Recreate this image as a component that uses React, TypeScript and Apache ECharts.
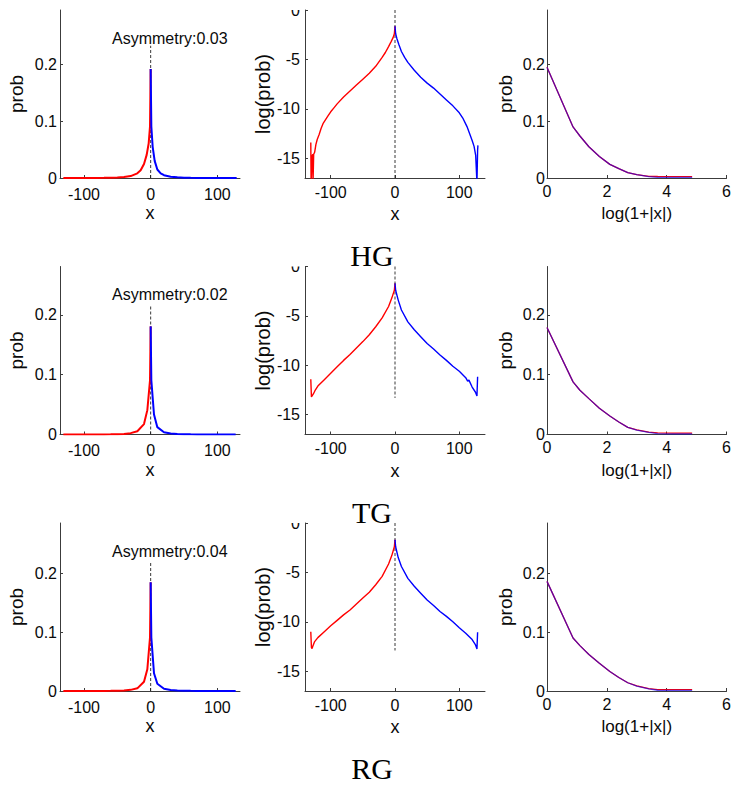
import React, { useEffect, useRef } from "react";
import * as echarts from "echarts";

// ---------- data ----------
const rowNames = ["HG", "TG", "RG"];
const asymmetryLabels = ["Asymmetry:0.03", "Asymmetry:0.02", "Asymmetry:0.04"];
const probAxisMax = [0.296, 0.281, 0.285];
const probTicks = [0, 0.1, 0.2];
const logTicks = [-15, -10, -5, 0];
const xTicks = [-100, 0, 100];
const rightXTicks = [0, 2, 4, 6];
const probDashTop = [0.233, 0.217, 0.22];
const logDashBottom = [-17, -13.3, -12.9];

// HG: log(prob) for x <= 0 (red) and x >= 0 (blue)
const hgNegX = [-131, -130.5, -129, -128, -127.5, -126.5, -125, -123, -121, -118, -115, -112, -108, -104, -100, -95, -90, -80, -70, -60, -50, -40, -30, -20, -15, -10, -6, -3, -1, 0];
const hgNegLog = [-13.4, -17.5, -14.8, -14.6, -17.5, -14.6, -14.4, -13.6, -13.1, -12.6, -12.0, -11.5, -11.1, -10.7, -10.3, -9.9, -9.5, -8.8, -8.2, -7.6, -7.0, -6.4, -5.7, -4.8, -4.3, -3.7, -3.2, -2.8, -2.4, -1.65];
const hgPosX = [0, 1, 3, 6, 10, 15, 20, 30, 40, 50, 60, 70, 80, 90, 100, 106, 112, 116, 120, 123, 125.5, 127.5, 128.5, 129];
const hgPosLog = [-1.65, -2.4, -2.9, -3.5, -4.2, -4.8, -5.3, -6.1, -6.8, -7.4, -7.9, -8.5, -9.1, -9.7, -10.4, -11.0, -11.8, -12.5, -13.2, -13.8, -14.7, -17.5, -14.2, -13.7];

// TG
const tgNegX = [-131, -130, -127, -124, -120, -110, -100, -90, -80, -70, -60, -50, -40, -30, -20, -10, -5, -1, 0];
const tgNegLog = [-11.4, -13.2, -12.9, -12.5, -12.1, -11.45, -10.8, -10.15, -9.5, -8.9, -8.25, -7.6, -6.9, -6.1, -5.2, -4.05, -3.2, -2.4, -1.71];
const tgPosX = [0, 1, 5, 10, 20, 30, 40, 50, 60, 70, 80, 90, 100, 110, 113, 115, 120, 125, 127.5, 128.5];
const tgPosLog = [-1.71, -2.4, -3.4, -4.4, -5.6, -6.4, -7.1, -7.8, -8.35, -8.95, -9.5, -10.1, -10.6, -11.25, -11.6, -11.5, -12.2, -12.7, -13.1, -11.15];

// RG
const rgNegX = [-131, -130, -129, -128, -125, -120, -110, -100, -90, -80, -70, -60, -50, -40, -30, -20, -10, -5, -1, 0];
const rgNegLog = [-11.0, -12.6, -12.7, -12.5, -12.0, -11.6, -11.0, -10.4, -9.85, -9.3, -8.8, -8.2, -7.6, -7.0, -6.25, -5.4, -4.15, -3.3, -2.4, -1.69];
const rgPosX = [0, 1, 5, 10, 20, 30, 40, 50, 60, 70, 80, 90, 100, 110, 120, 125, 127.5, 128.5];
const rgPosLog = [-1.69, -2.4, -3.5, -4.4, -5.6, -6.4, -7.1, -7.8, -8.35, -8.95, -9.45, -10.0, -10.6, -11.15, -11.8, -12.3, -12.75, -11.05];

// right column: prob against log(1+|x|)
const rightX = [0, 0.87, 1.1, 1.4, 1.75, 2.1, 2.4, 2.7, 3.0, 3.4, 3.7, 4.2, 4.85];
const hgRightRed = [0.195, 0.09, 0.074, 0.055, 0.038, 0.024, 0.0165, 0.0095, 0.006, 0.003, 0.0026, 0.0024, 0.0024];
const hgRightBlue = [0.195, 0.09, 0.074, 0.055, 0.038, 0.024, 0.0165, 0.0095, 0.0058, 0.0025, 0.0012, 0.001, 0.001];
const tgRightRed = [0.179, 0.088, 0.074, 0.06, 0.044, 0.031, 0.021, 0.012, 0.0078, 0.004, 0.0028, 0.0024, 0.0024];
const tgRightBlue = [0.179, 0.088, 0.074, 0.06, 0.044, 0.031, 0.021, 0.012, 0.0075, 0.0035, 0.0015, 0.001, 0.001];
const rgRightRed = [0.186, 0.09, 0.077, 0.062, 0.047, 0.033, 0.023, 0.014, 0.0086, 0.004, 0.0025, 0.0022, 0.0022];
const rgRightBlue = [0.186, 0.09, 0.077, 0.062, 0.047, 0.033, 0.023, 0.014, 0.0083, 0.0035, 0.0013, 0.001, 0.001];

const rowsData = [
  { negX: hgNegX, negLog: hgNegLog, posX: hgPosX, posLog: hgPosLog, rRed: hgRightRed, rBlue: hgRightBlue },
  { negX: tgNegX, negLog: tgNegLog, posX: tgPosX, posLog: tgPosLog, rRed: tgRightRed, rBlue: tgRightBlue },
  { negX: rgNegX, negLog: rgNegLog, posX: rgPosX, posLog: rgPosLog, rRed: rgRightRed, rBlue: rgRightBlue },
];

// ---------- layout / style ----------
const rowTops = [10, 266.5, 523];
const gridH = 168;
const cols = [
  { left: 60, width: 180 },
  { left: 305, width: 180 },
  { left: 547, width: 181 },
];
const SANS = "'Liberation Sans', Arial, sans-serif";
const SERIF = "'Liberation Serif', 'Times New Roman', serif";
const AXIS_COLOR = "#3c3c3c";
const TEXT_COLOR = "#0a0a0a";
const RED = "#ff0000";
const BLUE = "#0000ff";

function fmt(v: number) {
  return String(Math.round(v * 1000) / 1000);
}

function baseAxis(gridIndex: number) {
  return {
    gridIndex,
    type: "value",
    axisLine: { show: true, onZero: false, lineStyle: { color: AXIS_COLOR, width: 1 } },
    splitLine: { show: false },
  };
}

function buildOption() {
  const grid: any[] = [];
  const xAxis: any[] = [];
  const yAxis: any[] = [];
  const series: any[] = [];
  const graphic: any[] = [];

  rowsData.forEach((d, r) => {
    const top = rowTops[r];
    cols.forEach((c) => {
      grid.push({ left: c.left, top, width: c.width, height: gridH, containLabel: false });
    });
    const g0 = r * 3;
    const tick = (vals: number[]) => ({ show: true, inside: true, length: 3, customValues: vals, lineStyle: { color: AXIS_COLOR } });
    const label = (vals: number[], margin: number) => ({ customValues: vals, color: TEXT_COLOR, fontSize: 16, fontFamily: SANS, margin, formatter: fmt });
    const nameStyle = (size: number) => ({ color: TEXT_COLOR, fontFamily: SANS, fontSize: size });

    // left column: prob vs x
    xAxis.push({
      ...baseAxis(g0), min: -136, max: 134, name: "x", nameLocation: "middle", nameGap: 26,
      nameTextStyle: nameStyle(18), axisTick: tick(xTicks), axisLabel: label(xTicks, 8),
    });
    yAxis.push({
      ...baseAxis(g0), min: 0, max: probAxisMax[r], name: "prob", nameLocation: "middle", nameGap: 34,
      nameTextStyle: nameStyle(19), axisTick: tick(probTicks), axisLabel: label(probTicks, 3),
    });
    // middle column: log(prob) vs x
    xAxis.push({
      ...baseAxis(g0 + 1), min: -140, max: 140, name: "x", nameLocation: "middle", nameGap: 27,
      nameTextStyle: nameStyle(18), axisTick: tick(xTicks), axisLabel: label(xTicks, 6),
    });
    yAxis.push({
      ...baseAxis(g0 + 1), min: -17, max: 0, name: "log(prob)", nameLocation: "middle", nameGap: 30,
      nameTextStyle: nameStyle(20), axisTick: tick(logTicks), axisLabel: label(logTicks, 5),
    });
    // right column: prob vs log(1+|x|)
    xAxis.push({
      ...baseAxis(g0 + 2), min: 0, max: 6, name: "log(1+|x|)", nameLocation: "middle", nameGap: 27,
      nameTextStyle: nameStyle(17), axisTick: tick(rightXTicks), axisLabel: label(rightXTicks, 5),
    });
    yAxis.push({
      ...baseAxis(g0 + 2), min: 0, max: probAxisMax[r], name: "prob", nameLocation: "middle", nameGap: 32,
      nameTextStyle: nameStyle(19), axisTick: tick(probTicks), axisLabel: label(probTicks, 2),
    });

    const lineBase = { type: "line", symbol: "none", showSymbol: false, silent: true, clip: true, animation: false };
    const dashStyle = { color: "#222", width: 0.9, type: [3, 2] };

    // left
    series.push({ ...lineBase, xAxisIndex: g0, yAxisIndex: g0, data: [[0, 0], [0, probDashTop[r]]], lineStyle: dashStyle });
    series.push({ ...lineBase, xAxisIndex: g0, yAxisIndex: g0, data: d.negX.map((x, i) => [x, Math.exp(d.negLog[i])]), lineStyle: { color: RED, width: 2 } });
    series.push({ ...lineBase, xAxisIndex: g0, yAxisIndex: g0, data: d.posX.map((x, i) => [x, Math.exp(d.posLog[i])]), lineStyle: { color: BLUE, width: 2 } });
    // middle
    series.push({ ...lineBase, xAxisIndex: g0 + 1, yAxisIndex: g0 + 1, data: [[0, 0], [0, logDashBottom[r]]], lineStyle: dashStyle });
    series.push({ ...lineBase, xAxisIndex: g0 + 1, yAxisIndex: g0 + 1, data: d.negX.map((x, i) => [x, d.negLog[i]]), lineStyle: { color: RED, width: 1.4 } });
    series.push({ ...lineBase, xAxisIndex: g0 + 1, yAxisIndex: g0 + 1, data: d.posX.map((x, i) => [x, d.posLog[i]]), lineStyle: { color: BLUE, width: 1.4 } });
    // right (red and blue overlap and blend to violet)
    series.push({ ...lineBase, xAxisIndex: g0 + 2, yAxisIndex: g0 + 2, data: rightX.map((x, i) => [x, d.rRed[i]]), lineStyle: { color: RED, width: 1.3 } });
    series.push({ ...lineBase, xAxisIndex: g0 + 2, yAxisIndex: g0 + 2, data: rightX.map((x, i) => [x, d.rBlue[i]]), lineStyle: { color: BLUE, width: 1.3, opacity: 0.62 } });

    // annotations
    graphic.push({
      type: "text", left: 112, top: top + 20, z: 50,
      style: { text: asymmetryLabels[r], font: `16px ${SANS}`, fill: TEXT_COLOR },
    });
    // hide upper half of the "0" label of the log axis (the source is cropped there)
    graphic.push({
      type: "rect", z: 100, shape: { x: 280, y: top - 12, width: 23, height: 12 },
      style: { fill: "#ffffff" },
    });
  });

  const titleY = [255, 512, 768];
  rowNames.forEach((n, r) => {
    graphic.push({
      type: "text", z: 50, x: 372, y: titleY[r],
      style: { text: n, font: `30px ${SERIF}`, fill: "#000", textAlign: "center", textVerticalAlign: "middle" },
    });
  });

  return { animation: false, backgroundColor: "#ffffff", grid, xAxis, yAxis, series, graphic };
}

export default function App() {
  const ref = useRef<HTMLDivElement>(null);
  useEffect(() => {
    if (!ref.current) return;
    const chart = echarts.init(ref.current, undefined, { renderer: "svg" });
    chart.setOption(buildOption() as any);
    return () => chart.dispose();
  }, []);
  return (
    <div
      ref={ref}
      style={{ position: "absolute", left: 0, top: 0, width: 734, height: 785, background: "#fff" }}
    />
  );
}
